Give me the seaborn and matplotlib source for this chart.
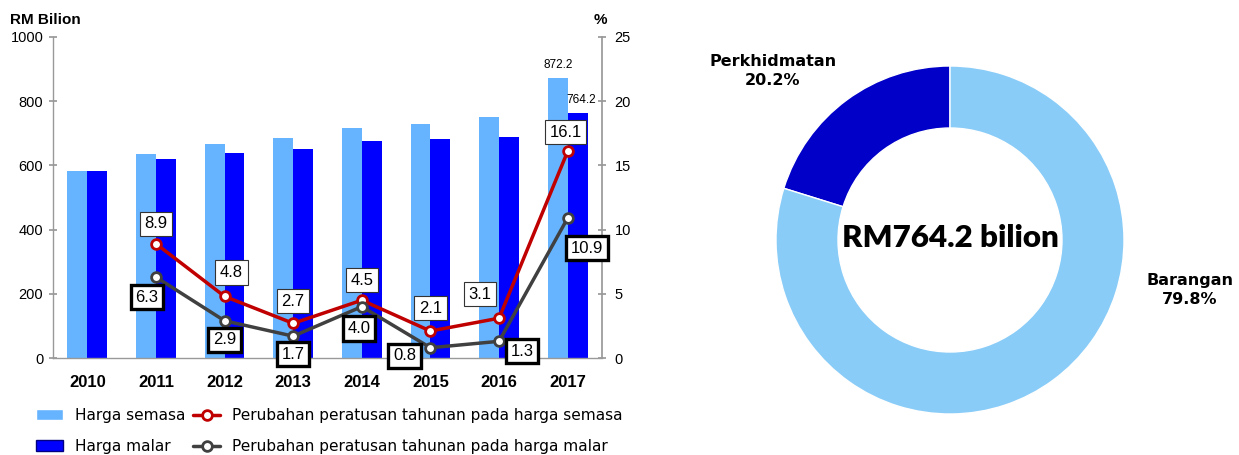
import matplotlib
matplotlib.use('Agg')
import matplotlib.pyplot as plt
import numpy as np
import pandas as pd
import seaborn as sns
from matplotlib.patches import Patch
from matplotlib.lines import Line2D

# data
tahun = ['2010', '2011', '2012', '2013', '2014', '2015', '2016', '2017']
harga_semasa = [583, 635, 666, 684, 715, 728, 752, 872.2]
harga_malar = [583, 620, 638, 650, 675, 682, 690, 764.2]
tahun_ubah = ['2011', '2012', '2013', '2014', '2015', '2016', '2017']
ubah_semasa = [8.9, 4.8, 2.7, 4.5, 2.1, 3.1, 16.1]
ubah_malar = [6.3, 2.9, 1.7, 4.0, 0.8, 1.3, 10.9]
komponen = ['Perkhidmatan', 'Barangan']
bahagian = [20.2, 79.8]
jumlah_2017 = 764.2

# label offsets in pixels (style only)
off_semasa = [(0, 20), (7, 24), (0, 22), (0, 20), (0, 23), (-19, 24), (-2, 19)]
off_malar = [(-9, -20), (0, -19), (0, -18), (-3, -22), (-26, -8), (23, -10), (19, -30)]

c_semasa = '#66B3FF'
c_malar = '#0000FF'
c_red = '#C00000'
c_grey = '#404040'

sns.set_theme(style='white')
plt.rcParams['font.family'] = ['Liberation Sans', 'DejaVu Sans']
plt.rcParams['text.color'] = 'black'
plt.rcParams['xtick.color'] = 'black'
plt.rcParams['ytick.color'] = 'black'
plt.rcParams['axes.labelcolor'] = 'black'

fig = plt.figure(figsize=(12.39, 4.55), dpi=100)
ax = fig.add_axes([53/1239, 97/455, 549/1239, 321/455])

df = pd.DataFrame({
        'tahun': tahun * 2,
        'nilai': harga_semasa + harga_malar,
        'jenis': ['Harga semasa'] * len(tahun) + ['Harga malar'] * len(tahun),
})
sns.barplot(data=df, x='tahun', y='nilai', hue='jenis', order=tahun,
            palette=[c_semasa, c_malar], width=0.58, saturation=1,
            ax=ax, legend=False, linewidth=0)
ax.set_xlim(-0.5, len(tahun) - 0.5)
ax.set_ylim(0, 1000)
ax.set_yticks(np.arange(0, 1001, 200))
ax.set_xlabel('')
ax.set_ylabel('')
ax.set_xticks(np.arange(len(tahun)))
ax.set_xticklabels(tahun, fontsize=12, fontweight='bold')
ax.set_xticks(np.arange(len(tahun) + 1) - 0.5, minor=True)
ax.tick_params(axis='x', which='major', length=0, pad=12)
ax.tick_params(axis='x', which='minor', length=5, direction='in', color='#999999')
ax.tick_params(axis='y', length=6, direction='inout', color='#999999', labelsize=10.5, pad=4)
for s in ['top', 'right']:
        ax.spines[s].set_visible(False)
for s in ['left', 'bottom']:
        ax.spines[s].set_color('#999999')
        ax.spines[s].set_linewidth(1)

# value labels on 2017 bars
i17 = len(tahun) - 1
ax.text(i17 - 0.145, harga_semasa[-1] + 22, f'{harga_semasa[-1]:.1f}', ha='center', va='bottom', fontsize=8.5)
ax.text(i17 + 0.2, harga_malar[-1] + 22, f'{harga_malar[-1]:.1f}', ha='center', va='bottom', fontsize=8.5)

ax2 = ax.twinx()
pos = [tahun.index(t) for t in tahun_ubah]
sns.lineplot(x=pos, y=ubah_semasa, ax=ax2, color=c_red, lw=2.5, marker='o',
             markersize=7, markerfacecolor='white', markeredgecolor=c_red, markeredgewidth=2)
sns.lineplot(x=pos, y=ubah_malar, ax=ax2, color=c_grey, lw=2.5, marker='o',
             markersize=7, markerfacecolor='white', markeredgecolor=c_grey, markeredgewidth=2)
ax2.set_ylim(0, 25)
ax2.set_xlim(-0.5, len(tahun) - 0.5)
ax2.set_yticks(np.arange(0, 26, 5))
ax2.tick_params(axis='y', length=6, direction='inout', color='#999999', labelsize=10.5, pad=6)
ax2.grid(False)
ax.grid(False)
for s in ['top', 'left', 'bottom']:
        ax2.spines[s].set_visible(False)
ax2.spines['right'].set_color('#999999')

for p, v, o in zip(pos, ubah_semasa, off_semasa):
        ax2.annotate(f'{v:.1f}', (p, v), xytext=o, textcoords='offset pixels',
                     ha='center', va='center', fontsize=12,
                     bbox=dict(boxstyle='square,pad=0.28', fc='white', ec='#333333', lw=0.8))
for p, v, o in zip(pos, ubah_malar, off_malar):
        ax2.annotate(f'{v:.1f}', (p, v), xytext=o, textcoords='offset pixels',
                     ha='center', va='center', fontsize=12,
                     bbox=dict(boxstyle='square,pad=0.28', fc='white', ec='black', lw=2.4))

fig.text(10/1239, 1 - 20/455, 'RM Bilion', fontsize=11, fontweight='bold', va='center', ha='left')
fig.text(600/1239, 1 - 20/455, '%', fontsize=11, fontweight='bold', va='center', ha='center')

handles = [
        Patch(facecolor=c_semasa, label='Harga semasa'),
        Patch(facecolor=c_malar, edgecolor='#000080', label='Harga malar'),
        Line2D([], [], color=c_red, lw=2.5, marker='o', markersize=7, markerfacecolor='white',
               markeredgewidth=2, label='Perubahan peratusan tahunan pada harga semasa'),
        Line2D([], [], color=c_grey, lw=2.5, marker='o', markersize=7, markerfacecolor='white',
               markeredgewidth=2, label='Perubahan peratusan tahunan pada harga malar'),
]
fig.legend(handles=handles, ncol=2, loc='upper left', bbox_to_anchor=(36/1239, 1 - 408/455),
           frameon=False, prop={'family': 'DejaVu Sans', 'size': 11.1}, handlelength=1.75,
           handletextpad=0.75, columnspacing=0.55, labelspacing=1.05, borderaxespad=0,
           borderpad=0)

# donut
axp = fig.add_axes([750/1239, 15/455, 400/1239, 400/455])
axp.pie(bahagian, colors=['#0000C8', '#8ACCF8'], startangle=90, counterclock=True,
        radius=0.87, wedgeprops=dict(width=0.31, edgecolor='white', linewidth=1))
axp.set_xlim(-1, 1)
axp.set_ylim(-1, 1)
axp.set_aspect('equal')
axp.axis('off')
axp.text(-0.885, 0.845, f'{komponen[0]}\n{bahagian[0]:.1f}%', ha='center', va='center',
         fontsize=11.5, fontweight='bold', family='DejaVu Sans', linespacing=1.3)
axp.text(1.2, -0.25, f'{komponen[1]}\n{bahagian[1]:.1f}%', ha='center', va='center',
         fontsize=11.5, fontweight='bold', family='DejaVu Sans', linespacing=1.3)
axp.text(0, 0.01, f'RM{jumlah_2017:.1f} bilion', ha='center', va='center',
         fontsize=22.5, fontweight='heavy', family='Lato')

fig.savefig('out.png', dpi=100)
